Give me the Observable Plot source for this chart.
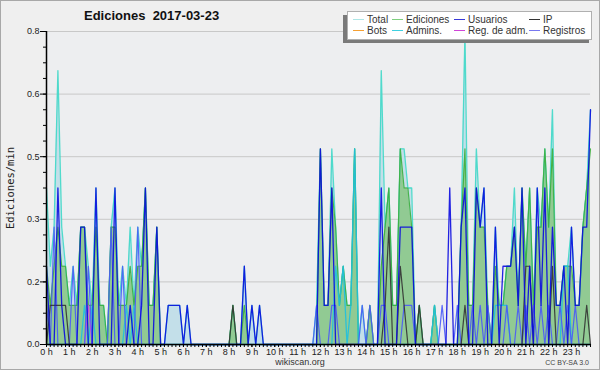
<!DOCTYPE html>
<html><head><meta charset="utf-8">
<script src="https://cdn.jsdelivr.net/npm/d3@7"></script>
<script src="https://cdn.jsdelivr.net/npm/@observablehq/plot@0.6"></script>
<style>
html,body{margin:0;padding:0;background:#efefef;}
#wrap{position:relative;width:600px;height:370px;background:#efefef;overflow:hidden;font-family:"Liberation Sans","DejaVu Sans",sans-serif;color:#222;}
#border{position:absolute;left:0;top:0;width:600px;height:370px;box-sizing:border-box;border:1px solid #a8a8a8;pointer-events:none;}
#chart{position:absolute;left:0;top:0;}
#title{position:absolute;left:84px;top:8px;font-weight:bold;font-size:13px;white-space:pre;color:#111;}
#ylabel{position:absolute;left:10px;top:188px;transform:translate(-50%,-50%) rotate(-90deg);font-family:"DejaVu Sans Mono",monospace;font-size:10.5px;white-space:nowrap;color:#222;}
#credit{position:absolute;left:0;width:600px;top:357px;text-align:center;font-size:9px;line-height:10px;color:#333;}
#lic{position:absolute;right:11px;top:359px;font-size:7px;line-height:8px;color:#444;}
#legshadow{position:absolute;left:343px;top:15px;width:246px;height:28px;background:#7a7a7a;}
#legend{position:absolute;left:347px;top:11px;width:245px;height:29px;background:#fff;border:1px solid #b0b0b0;box-sizing:border-box;font-size:10px;color:#333;}
.it{position:absolute;white-space:nowrap;line-height:10px;}
.sw{display:inline-block;width:11px;height:1.5px;vertical-align:middle;margin-right:3px;position:relative;top:-1px;}
</style></head>
<body>
<div id="wrap">
<div id="chart"></div>
<div id="title">Ediciones  2017-03-23</div>
<div id="ylabel">Ediciones/min</div>
<div id="credit">wikiscan.org</div>
<div id="lic">CC BY-SA 3.0</div>
<div id="legshadow"></div>
<div id="legend"></div>
<div id="border"></div>
</div>
<script>
// 10-minute bins, 0h00 .. 23h50 (edits per minute)
const total = [0.4,0.2,0.3,0.7,0.3,0.2,0.1,0.2,0.1,0.3, 0.3,0.2,0.1,0.4,0.1,0.1,0,0.3,0.4,0.1, 0.2,0.1,0.3,0.1,0.3,0.2,0.4,0.1,0.1,0.3,
 0,0,0.1,0.1,0.1,0.1,0,0.1,0,0, 0,0,0,0,0,0,0,0,0,0.1, 0,0,0.2,0,0.1,0,0.1,0,0,0, 0,0,0,0,0,0,0,0,0,0,
 0,0.1,0.5,0.1,0.1,0.5,0.3,0.1,0.2,0.1, 0.1,0.5,0,0.1,0,0.1,0,0,0.7,0.3, 0.4,0.1,0.1,0.5,0.5,0.4,0.4,0,0.1,0,
 0,0,0.1,0,0,0,0,0,0,0.3, 0.8,0.1,0.1,0.5,0.3,0.4,0.1,0,0.3,0.1, 0.1,0.2,0.2,0.4,0.1,0.4,0.2,0.4,0.1,0.4,
 0.3,0.5,0.3,0.6,0.1,0.1,0.2,0.2,0.3,0.1, 0.1,0.3,0.4,0.6];
const ediciones = [0.2,0.1,0.2,0.3,0.2,0.2,0.1,0.1,0.1,0.3, 0.3,0.1,0.1,0.3,0.1,0.1,0,0.3,0.3,0.1, 0.1,0.1,0.2,0.1,0.2,0.2,0.4,0.1,0.1,0.3,
 0,0,0,0,0,0,0,0,0,0, 0,0,0,0,0,0,0,0,0,0.1, 0,0,0.1,0,0,0,0,0,0,0, 0,0,0,0,0,0,0,0,0,0,
 0,0,0.5,0.1,0.1,0.4,0.3,0.1,0.2,0.1, 0.1,0.5,0,0,0,0.1,0,0,0.2,0.3, 0.4,0.1,0.1,0.5,0.4,0.4,0.3,0,0.1,0,
 0,0,0.1,0,0,0,0,0,0,0.3, 0.5,0.1,0.1,0.4,0.3,0.3,0.1,0,0.2,0.1, 0.1,0.2,0.2,0.3,0.1,0.4,0.2,0.4,0.1,0.3,
 0.3,0.5,0.3,0.5,0.1,0.1,0.2,0.2,0.2,0.1, 0.1,0.3,0.4,0.5];
const usuarios = [0.2,0,0,0.4,0.1,0,0,0,0,0.3, 0.3,0,0,0.4,0,0,0,0,0.4,0, 0,0,0.1,0,0,0.1,0.4,0,0,0.3,
 0,0,0.1,0.1,0.1,0.1,0,0.1,0,0, 0,0,0,0,0,0,0,0,0,0, 0,0,0.2,0,0.1,0,0.1,0,0,0, 0,0,0,0,0,0,0,0,0,0,
 0,0,0.5,0.1,0.1,0.4,0,0,0,0, 0,0,0,0,0,0,0,0,0.4,0, 0,0,0,0.3,0.3,0.3,0.3,0,0,0,
 0,0,0,0,0,0,0.4,0,0,0.3, 0.4,0,0,0.4,0.3,0.4,0,0,0.3,0, 0.2,0.2,0.2,0.3,0.1,0.4,0,0.2,0,0.4,
 0.1,0.4,0,0.3,0.1,0.1,0.2,0,0.3,0.1, 0.1,0.3,0.3,0.6];
const ip = [0,0.1,0.1,0.1,0.1,0.1,0,0,0,0, 0,0,0,0,0,0,0,0,0,0, 0,0,0,0,0,0,0,0,0,0,
 0,0,0,0,0,0,0,0,0,0, 0,0,0,0,0,0,0,0,0,0.1, 0,0,0,0,0,0,0,0,0,0, 0,0,0,0,0,0,0,0,0,0,
 0,0,0,0,0,0,0,0,0,0, 0,0,0,0,0,0,0,0,0,0.1, 0.3,0,0,0.2,0.1,0,0,0,0.1,0,
 0,0,0,0,0,0,0,0,0,0, 0.1,0,0,0,0,0,0,0,0,0, 0,0,0,0,0,0,0.2,0.2,0,0,
 0,0,0,0.2,0,0,0,0,0,0, 0,0,0.1,0];
const bots = new Array(144).fill(0);
const admins = [0,0,0,0,0,0,0,0,0,0, 0.1,0,0.1,0,0,0,0,0,0,0, 0,0.1,0,0.1,0,0,0,0,0,0,
 0,0,0,0,0,0,0,0,0,0, 0,0,0,0,0,0,0,0,0,0, 0,0,0,0,0,0,0,0,0,0, 0,0,0,0,0,0,0,0,0,0,
 0,0,0,0,0,0,0.2,0.1,0.2,0, 0.1,0.5,0,0,0,0,0,0,0,0, 0,0,0,0,0,0,0,0,0,0,
 0,0,0.1,0,0,0,0,0,0,0, 0,0,0,0,0,0,0,0,0.1,0.1, 0.1,0.1,0,0,0,0,0,0,0,0,
 0,0,0,0,0,0,0.2,0.2,0,0, 0,0,0,0];
const regAdm = [0,0,0,0,0,0,0,0,0,0, 0,0.1,0,0,0,0,0,0,0,0].concat(new Array(124).fill(0));
const registros = [0.1,0,0.3,0,0,0,0,0.2,0,0, 0,0.2,0,0,0,0,0,0.3,0,0, 0.2,0,0,0,0.3,0,0,0,0,0,
 0,0,0,0,0,0,0,0,0,0, 0,0,0,0,0,0,0,0,0,0, 0,0,0,0,0,0,0,0,0,0, 0,0,0,0,0,0,0,0,0,0,
 0,0.1,0,0,0,0.1,0.1,0,0,0, 0,0,0,0.1,0,0.1,0,0,0.1,0.1, 0,0,0,0,0.1,0.1,0.1,0,0,0,
 0,0,0,0,0.1,0,0,0,0.1,0, 0,0,0.1,0,0.1,0,0.1,0,0,0, 0,0.1,0,0,0.1,0,0.1,0,0.1,0,
 0.1,0,0.1,0,0,0.1,0,0.1,0,0.1, 0,0,0,0];
const hourLabels = d3.range(0,24).map(h => h + " h");
const yTicks = [0,0.16,0.32,0.48,0.64,0.8];
const seriesNames = ["Total","Ediciones","Usuarios","IP","Bots","Admins.","Reg. de adm.","Registros"];
const legendColors = ["#aee6e6","#7fcf7f","#3a3ad8","#333333","#f5a033","#3fd0e0","#d045d8","#7878f0"];

const idx = d3.range(total.length);
const lineSpecs = [
  {y: total, stroke: "#3fd8c8", w: 1.3},
  {y: ediciones, stroke: "#3cae3c", w: 1.2},
  {y: bots, stroke: "#f5a033", w: 1.2},
  {y: admins, stroke: "#1fc0e0", w: 1.3},
  {y: regAdm, stroke: "#d040e0", w: 1.2},
  {y: registros, stroke: "#4a5af8", w: 1.2},
  {y: ip, stroke: "#333333", w: 1.2},
  {y: usuarios, stroke: "#0a0ae0", w: 1.3}
];

const chart = Plot.plot({
  width: 600, height: 370,
  marginLeft: 46, marginRight: 10, marginTop: 31, marginBottom: 26,
  x: {domain: [0, 143], axis: null},
  y: {domain: [0, 0.8], axis: null},
  style: {background: "transparent", fontFamily: "Liberation Sans, DejaVu Sans, sans-serif", overflow: "visible"},
  marks: [
    Plot.frame({fill: "#edeef0", stroke: null}),
    Plot.gridY(yTicks.slice(1), {stroke: "#c8c8c8", strokeOpacity: 1, strokeWidth: 1}),
    Plot.areaY(idx, {x: i => i, y: i => total[i], fill: "#c3dfe9", fillOpacity: 1}),
    Plot.areaY(idx, {x: i => i, y: i => ediciones[i], fill: "#8ec88e", fillOpacity: 0.95}),
    ...lineSpecs.map(s => Plot.lineY(idx, {x: i => i, y: i => s.y[i], stroke: s.stroke, strokeWidth: s.w, strokeOpacity: 0.9})),
    Plot.axisY(d3.range(0, 0.801, 0.04), {tickSize: 3, tickFormat: () => "", stroke: "#000"}),
    Plot.axisY(yTicks, {tickSize: 6, tickPadding: 1, tickFormat: d => d.toFixed(1), fontSize: 9, fill: "#222", stroke: "#000"}),
    Plot.axisX(d3.range(0, 144, 1), {tickSize: 3, tickFormat: () => "", stroke: "#000"}),
    Plot.axisX(d3.range(0, 144, 6), {tickSize: 3, tickPadding: 1, tickFormat: d => hourLabels[d / 6], fontSize: 9, fill: "#222", stroke: "#000"}),
    Plot.ruleX([0], {stroke: "#000", strokeWidth: 1.5}),
    Plot.ruleY([0], {stroke: "#000", strokeWidth: 1.5})
  ]
});
document.getElementById("chart").appendChild(chart);

// legend
const leg = document.getElementById("legend");
const cols = [5, 44, 106, 181];
seriesNames.forEach((n, k) => {
  const col = k % 4, row = Math.floor(k / 4);
  const d = document.createElement("div");
  d.className = "it";
  d.style.left = cols[col] + "px";
  d.style.top = (3 + row * 11) + "px";
  d.innerHTML = `<span class="sw" style="background:${legendColors[k]}"></span>${n}`;
  leg.appendChild(d);
});
</script>
</body></html>
